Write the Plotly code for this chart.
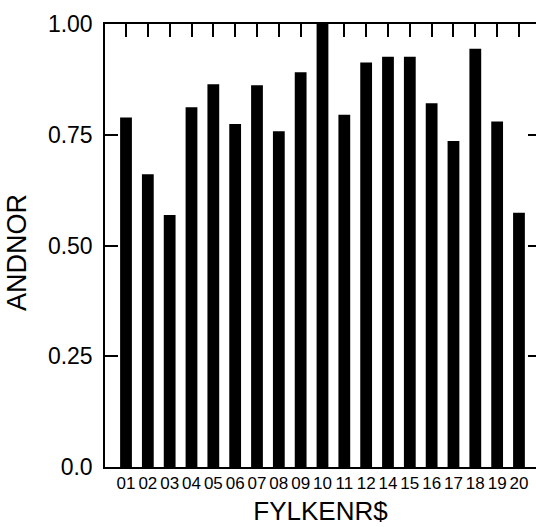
import plotly.graph_objects as go

# County codes and the ANDNOR share for each
fylkenr = ["01", "02", "03", "04", "05", "06", "07", "08", "09", "10",
           "11", "12", "14", "15", "16", "17", "18", "19", "20"]
andnor = [0.789, 0.661, 0.569, 0.812, 0.864, 0.774, 0.862, 0.758, 0.891, 1.00,
          0.795, 0.913, 0.926, 0.926, 0.821, 0.736, 0.944, 0.780, 0.574]

y_ticks = [0.0, 0.25, 0.50, 0.75, 1.00]
y_ticktext = ["0.0", "0.25", "0.50", "0.75", "1.00"]
right_ticks = [0.25, 0.50, 0.75]

FONT = "Liberation Sans, Arial, sans-serif"

fig = go.Figure()
fig.add_trace(go.Bar(x=fylkenr, y=andnor,
                     marker=dict(color="black", line=dict(width=0))))
# empty trace so the right-hand tick axis is drawn
fig.add_trace(go.Scatter(x=[], y=[], yaxis="y2", mode="markers", hoverinfo="skip"))

fig.update_layout(
    width=536, height=527,
    margin=dict(l=105, r=0, t=24, b=60),
    paper_bgcolor="white", plot_bgcolor="white",
    bargap=0.46,
    showlegend=False,
    font=dict(family=FONT, color="black"),
    xaxis=dict(
        type="category",
        range=[-0.962, 18.78],
        tickmode="array", tickvals=fylkenr, ticktext=fylkenr, tickangle=0,
        showline=True, linecolor="black", linewidth=1.5,
        mirror="ticks",
        ticks="inside", ticklen=13, tickwidth=1.5, tickcolor="black",
        tickfont=dict(size=17),
        showgrid=False, zeroline=False,
        title=dict(text="FYLKENR$", font=dict(size=26), standoff=10),
    ),
    yaxis=dict(
        range=[0, 1],
        tickmode="array", tickvals=y_ticks, ticktext=y_ticktext,
        showline=True, linecolor="black", linewidth=1.5,
        ticks="inside", ticklen=13, tickwidth=1.5, tickcolor="black",
        tickfont=dict(size=23), ticklabelstandoff=6,
        showgrid=False, zeroline=False,
    ),
    yaxis2=dict(
        overlaying="y", side="right", range=[0, 1],
        tickmode="array", tickvals=right_ticks,
        showticklabels=False, showline=False,
        ticks="inside", ticklen=8, tickwidth=1.5, tickcolor="black",
        showgrid=False, zeroline=False,
    ),
)

# vertical axis title
fig.add_annotation(
    text="ANDNOR", textangle=-90,
    xref="paper", yref="paper",
    x=(17 - 105) / 431, y=(467 - 253) / 443,
    xanchor="center", yanchor="middle",
    showarrow=False, font=dict(size=27),
)

fig.write_html("out.html")
